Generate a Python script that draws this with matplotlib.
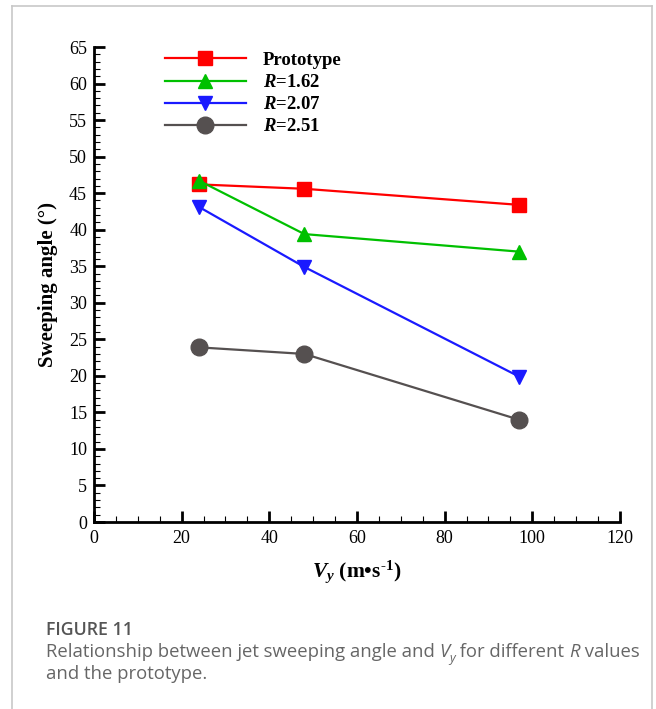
import matplotlib
matplotlib.use('Agg')
import matplotlib.pyplot as plt
from matplotlib.ticker import MultipleLocator
from matplotlib.lines import Line2D

plt.rcParams['font.family'] = 'Liberation Serif'
plt.rcParams['mathtext.fontset'] = 'custom'
plt.rcParams['mathtext.it'] = 'Liberation Serif:italic:bold'
plt.rcParams['mathtext.rm'] = 'Liberation Serif:bold'
plt.rcParams['mathtext.bf'] = 'Liberation Serif:bold'

# jet velocity (m/s) and sweeping angle (deg)
vy = [24, 48, 97]
prototype = [46.2, 45.6, 43.4]
r_162 = [46.7, 39.4, 37.0]
r_207 = [43.1, 34.9, 19.9]
r_251 = [23.9, 23.0, 14.0]

labels = ['Prototype', '$R$=1.62', '$R$=2.07', '$R$=2.51']
colors = ['#ff0000', '#00c000', '#1a1aff', '#555050']
markers = ['s', '^', 'v', 'o']
msizes = [10, 10, 10, 12]

fig = plt.figure(figsize=(6.56, 7.09), dpi=100)
ax = fig.add_axes([0.1433, 0.2637, 0.8017, 0.670])

for ys, lab, c, m, ms in zip([prototype, r_162, r_207, r_251], labels, colors, markers, msizes):
    ax.plot(vy, ys, color=c, marker=m, markersize=ms, linewidth=1.6, label=lab)

ax.set_xlim(0, 120)
ax.set_ylim(0, 65)
ax.xaxis.set_major_locator(MultipleLocator(20))
ax.xaxis.set_minor_locator(MultipleLocator(5))
ax.yaxis.set_major_locator(MultipleLocator(5))
ax.yaxis.set_minor_locator(MultipleLocator(1))
ax.spines['top'].set_visible(False)
ax.spines['right'].set_visible(False)
for s in ['left', 'bottom']:
    ax.spines[s].set_linewidth(2)
ax.tick_params(which='major', direction='in', length=8, width=2, labelsize=13, pad=5)
ax.tick_params(which='minor', direction='in', length=4, width=0.8)
ax.tick_params(axis='x', pad=6)

ax.set_ylabel('Sweeping angle (°)', fontsize=15, fontweight='bold', labelpad=8)
ax.set_xlabel('$V_y$ (m•s$^{\u20101}$)', fontsize=15.5, fontweight='bold', labelpad=8)

leg = ax.legend(loc='upper left', bbox_to_anchor=(0.135, 0.99), frameon=False,
                borderpad=0, borderaxespad=0,
                handlelength=4.3, handletextpad=0.9, labelspacing=0.27,
                prop={'weight': 'bold', 'size': 13.5})

# frame around figure
fig.add_artist(Line2D([0.018, 0.018], [0.0, 0.992], color='#c8c8c8', lw=1.2))
fig.add_artist(Line2D([0.994, 0.994], [0.0, 0.992], color='#c8c8c8', lw=1.2))
fig.add_artist(Line2D([0.018, 0.994], [0.992, 0.992], color='#c8c8c8', lw=1.2))

# caption
fig.text(0.07, 0.104, 'FIGURE 11', family='Open Sans', fontsize=12.8,
         fontweight='semibold', color='#555555')

renderer = fig.canvas.get_renderer()


def chain(x, y, parts):
    for txt, style, dy, size in parts:
        t = fig.text(x, y + dy, txt, family='Open Sans', fontsize=size,
                     style=style, color='#666666')
        bb = t.get_window_extent(renderer)
        x = fig.transFigure.inverted().transform((bb.x1, bb.y0))[0]


chain(0.07, 0.073, [('Relationship between jet sweeping angle and ', 'normal', 0, 13.3),
                    ('V', 'italic', 0, 13.3), ('y', 'italic', -0.007, 9),
                    (' for different ', 'normal', 0, 13.3), ('R', 'italic', 0, 13.3),
                    (' values', 'normal', 0, 13.3)])
fig.text(0.07, 0.042, 'and the prototype.', family='Open Sans', fontsize=13.3, color='#666666')

fig.savefig('out.png', dpi=100)
